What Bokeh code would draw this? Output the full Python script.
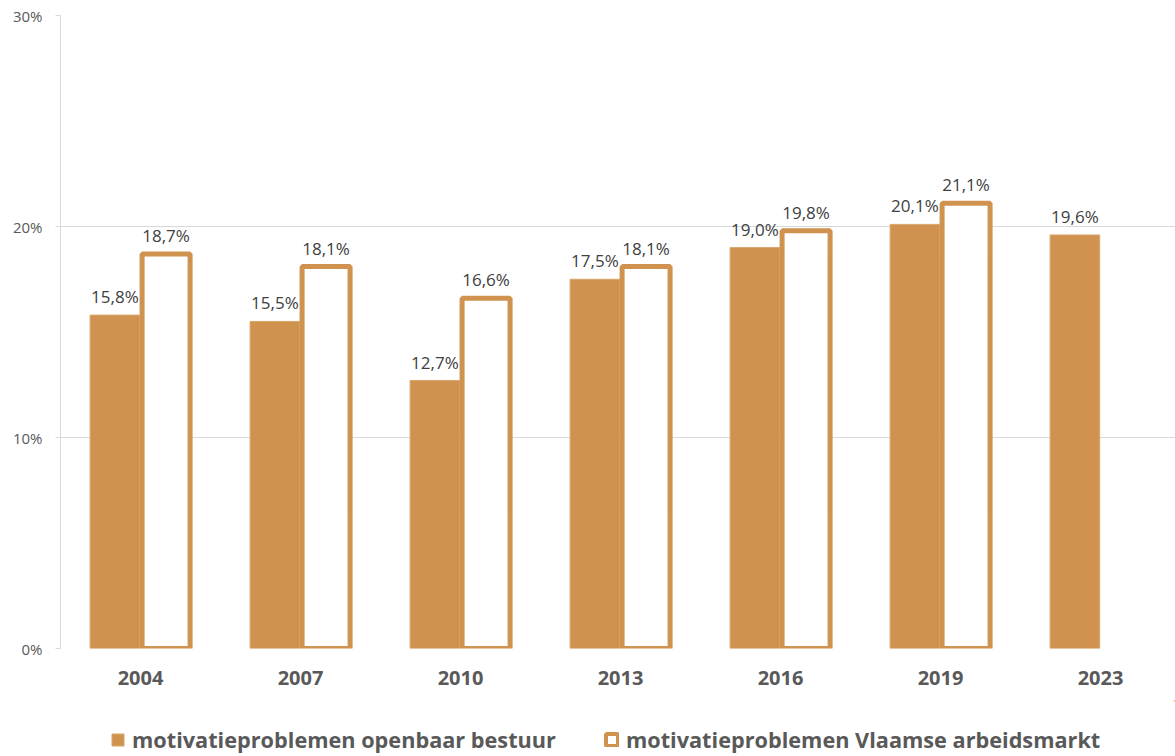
from bokeh.plotting import figure
from bokeh.layouts import column
from bokeh.models import Range1d, FixedTicker, ColumnDataSource, Legend, LegendItem, LabelSet
from bokeh.embed import file_html
from bokeh.resources import INLINE
from bokeh.core.properties import value

years = ["2004", "2007", "2010", "2013", "2016", "2019", "2023"]
openbaar = [15.8, 15.5, 12.7, 17.5, 19.0, 20.1, 19.6]
vlaams = [18.7, 18.1, 16.6, 18.1, 19.8, 21.1, None]
name1 = "motivatieproblemen openbaar bestuur"
name2 = "motivatieproblemen Vlaamse arbeidsmarkt"
y_ticks = [0, 10, 20, 30]

COLOR = "#D0934F"
FONT = "Open Sans"

pos = [i + 0.5 for i in range(len(years))]

def fmt(v):
    return ("%.1f" % v).replace(".", ",") + "%"

src1 = ColumnDataSource(dict(x=[p - 0.16 for p in pos], top=openbaar,
                             lab=[fmt(v) for v in openbaar]))
v2x = [p + 0.16 for p, v in zip(pos, vlaams) if v is not None]
v2 = [v for v in vlaams if v is not None]
src2 = ColumnDataSource(dict(x=v2x, top=v2, lab=[fmt(v) for v in v2]))

p = figure(width=1175, height=700, output_backend="svg", toolbar_location=None,
           x_range=Range1d(0, 1115 / 160), y_range=Range1d(0, 30),
           min_border_left=60, min_border_right=0, min_border_top=15,
           min_border_bottom=52)
p.outline_line_color = None
p.background_fill_color = "white"
p.border_fill_color = "white"

r1 = p.vbar(x="x", top="top", bottom=0, width=0.31, source=src1,
            fill_color=COLOR, line_color="#D9A56B", line_width=1)
r2 = p.vbar(x="x", top="top", bottom=0, width=0.30, source=src2,
            fill_color="white", line_color=COLOR, line_width=5)

for src in (src1, src2):
    lbl = LabelSet(x="x", y="top", text="lab", source=src, text_align="center",
                   text_baseline="bottom", y_offset=7,
                   text_font=value(FONT), text_font_size=value("17px"),
                   text_color="#404040")
    p.add_layout(lbl)

# y axis
p.yaxis.ticker = FixedTicker(ticks=y_ticks)
p.yaxis.major_label_overrides = {t: "%d%%" % t for t in y_ticks}
p.yaxis.axis_line_color = "#D9D9D9"
p.yaxis.major_tick_line_color = "#D9D9D9"
p.yaxis.major_tick_out = 5
p.yaxis.major_tick_in = 0
p.yaxis.minor_tick_line_color = None
p.yaxis.major_label_text_font = FONT
p.yaxis.major_label_text_font_size = "15px"
p.yaxis.major_label_text_color = "#595959"
p.yaxis.major_label_standoff = 13

# x axis
p.xaxis.ticker = FixedTicker(ticks=pos)
p.xaxis.major_label_overrides = {pp: y for pp, y in zip(pos, years)}
p.xaxis.axis_line_color = None
p.xaxis.major_tick_line_color = None
p.xaxis.minor_tick_line_color = None
p.xaxis.major_label_text_font = FONT
p.xaxis.major_label_text_font_size = "20px"
p.xaxis.major_label_text_font_style = "bold"
p.xaxis.major_label_text_color = "#595959"
p.xaxis.major_label_standoff = 16

p.xgrid.grid_line_color = None
p.ygrid.grid_line_color = "#D9D9D9"
p.ygrid.grid_line_width = 1

# legend strip (its swatch renderers sit outside the visible range)
q = figure(width=1175, height=56, output_backend="svg", toolbar_location=None,
           x_range=Range1d(0, 1), y_range=Range1d(0, 1),
           min_border_left=0, min_border_right=0, min_border_top=0,
           min_border_bottom=0)
q.axis.visible = False
q.grid.grid_line_color = None
q.outline_line_color = None
e1 = q.vbar(x=[10], top=[10], bottom=[9], width=0.1,
            fill_color=COLOR, line_color="#D9A56B", line_width=1)
e2 = q.vbar(x=[10], top=[10], bottom=[9], width=0.1,
            fill_color="white", line_color=COLOR, line_width=4)

legend = Legend(items=[LegendItem(label=name1, renderers=[e1]),
                       LegendItem(label=name2, renderers=[e2])],
                orientation="horizontal", location=(50, 2),
                label_text_font=FONT, label_text_font_size="21.7px",
                label_text_font_style="bold", label_text_color="#595959",
                border_line_color=None, background_fill_alpha=0,
                glyph_width=15, glyph_height=15, spacing=48,
                label_standoff=7, padding=0, margin=0)
q.add_layout(legend, "center")

open("out.html", "w").write(file_html(column(p, q, spacing=0), INLINE))
